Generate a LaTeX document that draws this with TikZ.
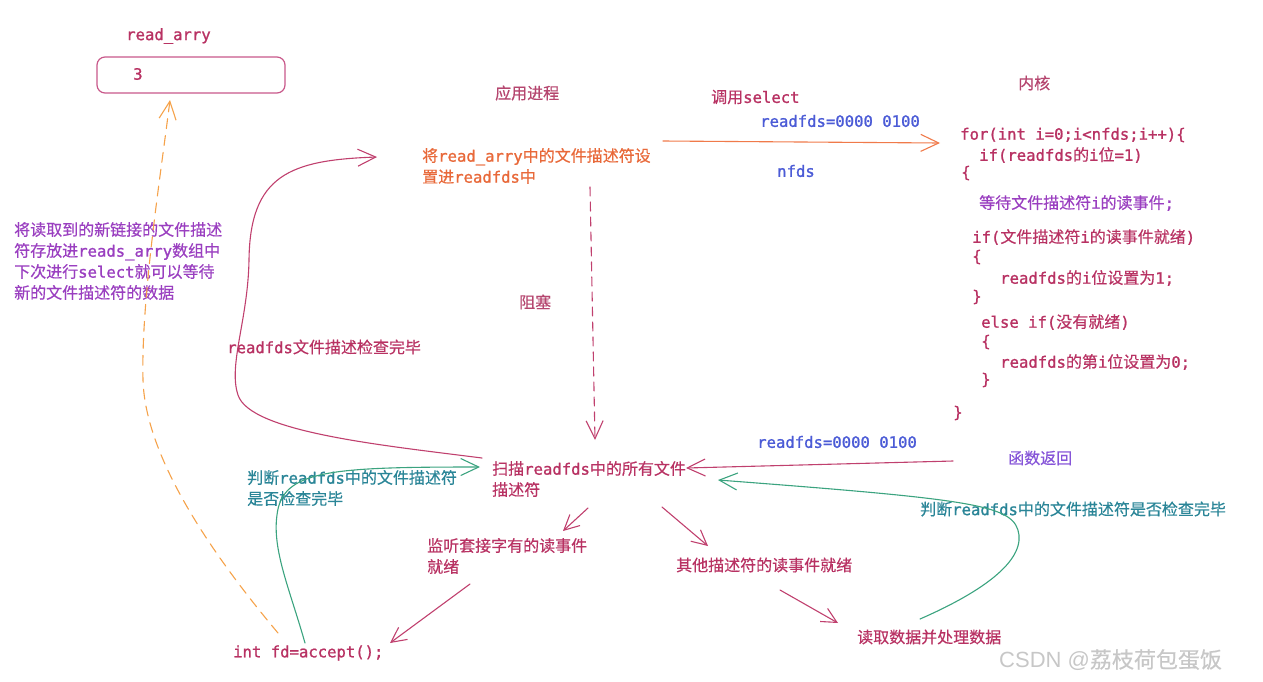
\documentclass[tikz,border=0pt]{standalone}
\usepackage{fontspec}
\setmainfont{Noto Sans CJK SC}[FakeBold=0.5]
\newfontfamily\cd[Scale=0.975, FakeBold=1.2]{DejaVu Sans Mono}
\newfontfamily\wmfont{Liberation Sans}
\newcommand\m[1]{{\cd #1}}
\usetikzlibrary{arrows.meta}
\definecolor{crim}{HTML}{B83263}
\definecolor{crimlt}{HTML}{B5466F}
\definecolor{orgtxt}{HTML}{E8693A}
\definecolor{orgline}{HTML}{F07A4A}
\definecolor{orgdash}{HTML}{F5A24A}
\definecolor{bluet}{HTML}{4B5BD6}
\definecolor{purp}{HTML}{9A3FC0}
\definecolor{purp2}{HTML}{8655D8}
\definecolor{tealt}{HTML}{2A8597}
\definecolor{greenl}{HTML}{3BA37F}
\definecolor{boxc}{HTML}{C8588A}
\definecolor{magl}{HTML}{C0406E}
\tikzset{
  txt/.style={inner sep=0pt, anchor=west, font=\fontsize{16}{21}\selectfont, align=left},
  conn/.style={line width=1.1pt, line cap=round, -{Straight Barb[length=18pt,width=17pt,line width=1.1pt]}},
  smallconn/.style={line width=1.1pt, line cap=round, -{Straight Barb[length=15pt,width=15pt,line width=1.1pt]}},
}
\begin{document}
\begin{tikzpicture}[x=1pt,y=-1pt]
\useasboundingbox (0,0) rectangle (1263,681);
% array box
\node[txt, text=crim] (arrname) at (126,36) {\m{read\_arry}};
\draw[boxc, line width=1.2pt, rounded corners=8pt] (97,57) rectangle (285,93);
\coordinate (boxbot) at (170,100);
\node[txt, text=crim] (three) at (133,74) {\m{3}};
% headings
\node[txt, text=crimlt] (app) at (495,93) {应用进程};
\node[txt, text=crim] (callsel) at (711,97) {调用\m{select}};
\node[txt, text=bluet] (rfd1) at (760,121) {\m{readfds=0000 0100}};
\node[txt, text=bluet] (nfds) at (777,171) {\m{nfds}};
\node[txt, text=crimlt] (kernel) at (1018,83) {内核};
\node[txt, text=orgtxt] (setfds) at (422,166) {将\m{read\_arry}中的文件描述符设\\置进\m{readfds}中};
% kernel code
\node[txt, text=crim] (c1) at (960,135) {\m{for(int i=0;i<nfds;i++)\{}};
\node[txt, text=crim] (c2) at (979,155) {\m{if(readfds}的\m{i}位\m{=1)}};
\node[txt, text=crim] (c3) at (961,173) {\m{\{}};
\node[txt, text=purp] (c4) at (979,203) {等待文件描述符\m{i}的读事件\m{;}};
\node[txt, text=crim] (c5) at (972,237) {\m{if(}文件描述符\m{i}的读事件就绪\m{)}};
\node[txt, text=crim] (c6) at (972,257) {\m{\{}};
\node[txt, text=crim] (c7) at (1000,278) {\m{readfds}的\m{i}位设置为\m{1;}};
\node[txt, text=crim] (c8) at (972,297) {\m{\}}};
\node[txt, text=crim] (c9) at (981,322) {\m{else if(}没有就绪\m{)}};
\node[txt, text=crim] (c10) at (981,342) {\m{\{}};
\node[txt, text=crim] (c11) at (1000,362) {\m{readfds}的第\m{i}位设置为\m{0;}};
\node[txt, text=crim] (c12) at (981,380) {\m{\}}};
\node[txt, text=crim] (c13) at (953,413) {\m{\}}};
% left note
\node[txt, text=purp] (note) at (14,261) {将读取到的新链接的文件描述\\符存放进\m{reads\_arry}数组中\\下次进行\m{select}就可以等待\\新的文件描述符的数据};
\node[txt, text=crimlt] (block) at (519,302) {阻塞};
\node[txt, text=crim] (done) at (227,347) {\m{readfds}文件描述检查完毕};
\node[txt, text=bluet] (rfd2) at (757,442) {\m{readfds=0000 0100}};
\node[txt, text=purp2] (ret) at (1008,458) {函数返回};
\node[txt, text=crim] (scan) at (492,479) {扫描\m{readfds}中的所有文件\\描述符};
\node[txt, text=tealt] (judgeL) at (247,488) {判断\m{readfds}中的文件描述符\\是否检查完毕};
\node[txt, text=tealt] (judgeR) at (920,509) {判断\m{readfds}中的文件描述符是否检查完毕};
\node[txt, text=crim] (listen) at (427,556) {监听套接字有的读事件\\就绪};
\node[txt, text=crim] (other) at (676,565) {其他描述符的读事件就绪};
\node[txt, text=crim] (accept) at (233,653) {\m{int fd=accept();}};
\node[txt, text=crim] (readdata) at (857,637) {读取数据并处理数据};
\node[inner sep=0pt, anchor=west, text=black!22, font=\fontsize{22}{26}\selectfont] (wm) at (999,660) {{\wmfont CSDN @}荔枝荷包蛋饭};
% connector end points
\coordinate (selS) at (663,141);
\coordinate (selE) at (940,143);
\coordinate (blkS) at (590,187);
\coordinate (blkE) at (595,440);
\coordinate (retS) at (953,461);
\coordinate (retE) at (686,468);
\coordinate (loopS) at (482,458);
\coordinate (loopE) at (377,157);
\coordinate (gLS) at (305,643);
\coordinate (gLE) at (480,467);
\coordinate (gRS) at (920,619);
\coordinate (gRE) at (718,480);
\coordinate (orgS) at (278,633);
\coordinate (a1S) at (588,508);
\coordinate (a1E) at (563,531);
\coordinate (a2S) at (662,507);
\coordinate (a2E) at (708,546);
\coordinate (a3S) at (470,584);
\coordinate (a3E) at (390,643);
\coordinate (a4S) at (780,590);
\coordinate (a4E) at (838,623);
% connectors
\draw[conn, orgline] (selS) -- (selE);
\draw[conn, magl, dash pattern=on 9pt off 6pt] (blkS) -- (blkE);
\draw[conn, magl] (retS) -- (retE);
\draw[conn, magl] (loopS) .. controls (380,445) and (250,432) .. (238,395)
  .. controls (228,365) and (248,320) .. (249,260)
  .. controls (250,175) and (290,160) .. (loopE);
\draw[conn, greenl] (gLS) .. controls (290,590) and (272,550) .. (277,515)
  .. controls (282,470) and (330,467) .. (gLE);
\draw[conn, greenl] (gRS) .. controls (975,595) and (1022,565) .. (1019,535)
  .. controls (1015,505) and (980,500) .. (gRE);
\draw[conn, orgdash, dash pattern=on 10pt off 7pt] (orgS) .. controls (200,540) and (145,450) .. (143,380)
  .. controls (141,300) and (160,180) .. (boxbot);
\draw[smallconn, magl] (a1S) -- (a1E);
\draw[smallconn, magl] (a2S) -- (a2E);
\draw[smallconn, magl] (a3S) -- (a3E);
\draw[smallconn, magl] (a4S) -- (a4E);
\end{tikzpicture}
\end{document}
